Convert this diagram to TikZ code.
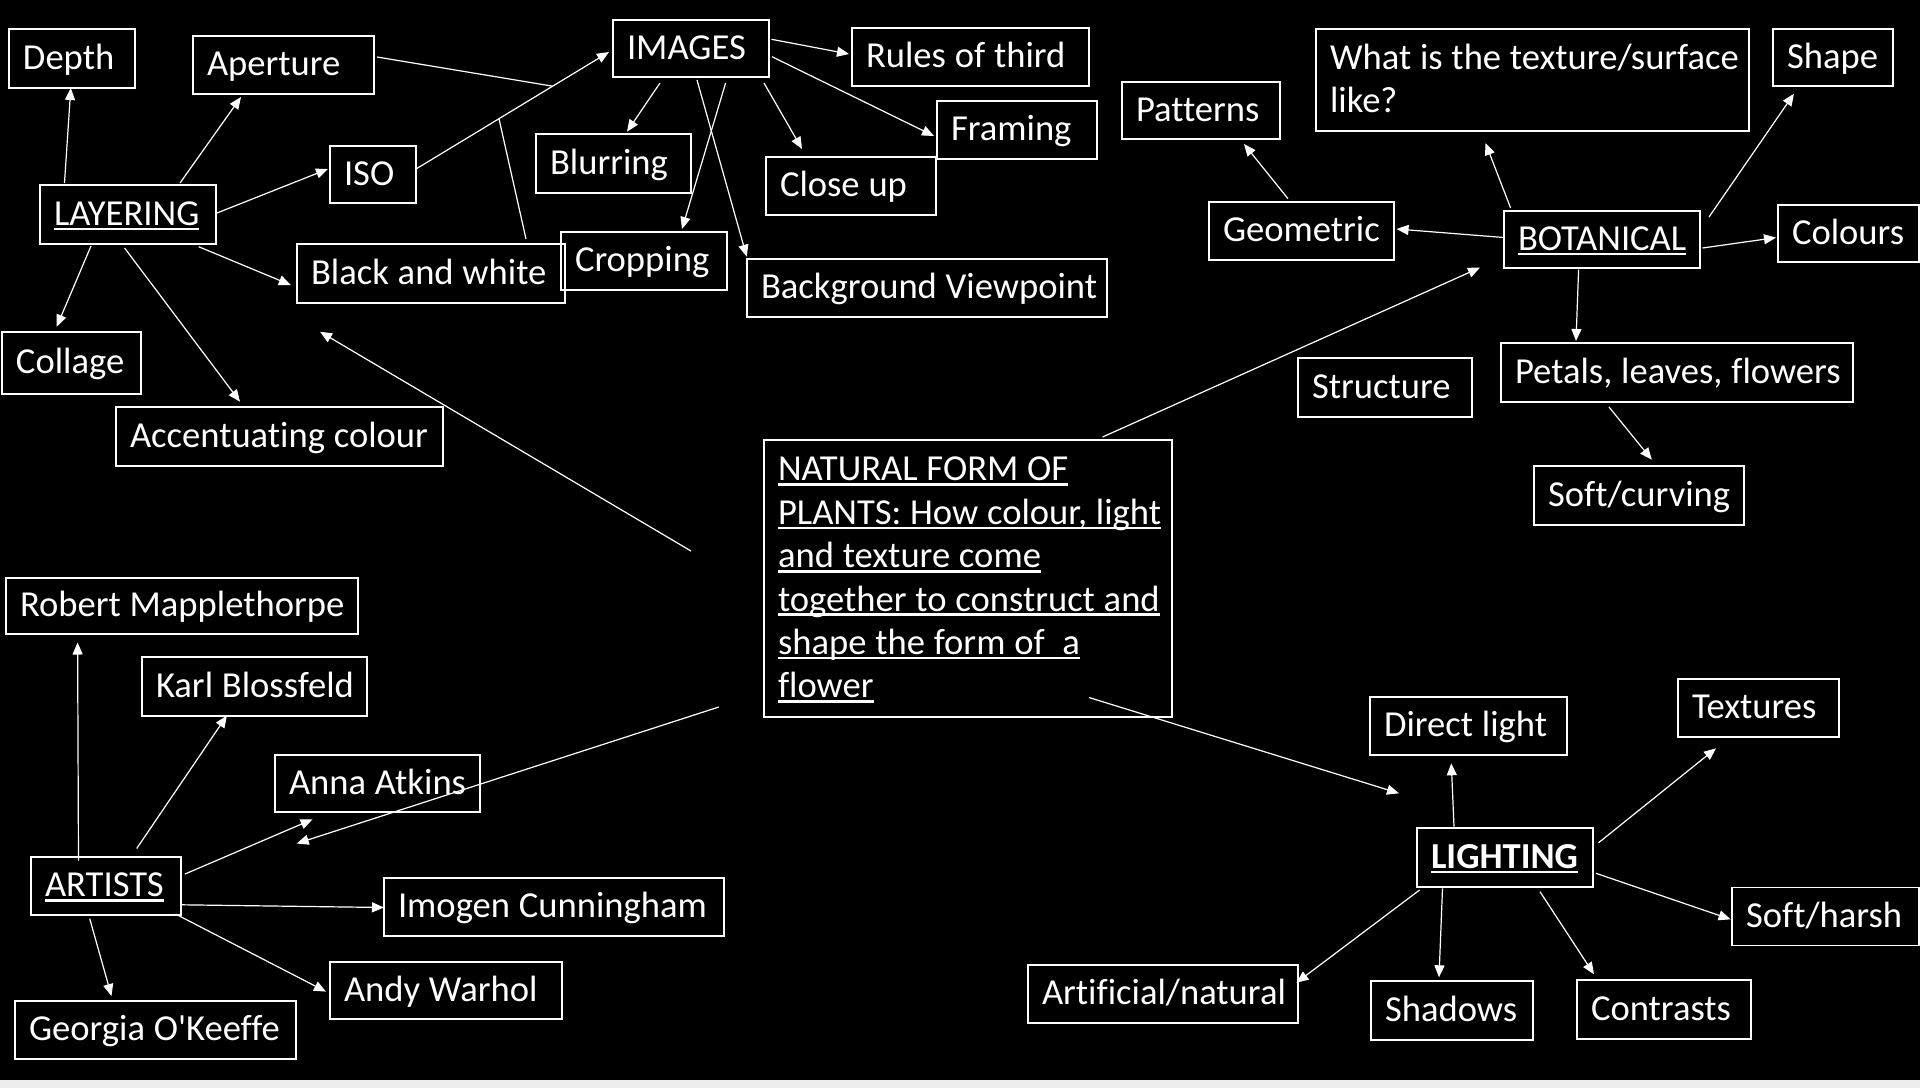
\documentclass[tikz,border=0pt]{standalone}
\usepackage{fontspec}
\setmainfont{Carlito}[Ligatures={NoCommon,NoContextual}]
\usetikzlibrary{arrows.meta,calc}
\newcommand\myul[1]{\setbox0=\hbox{#1}\rlap{\rule[-0.13em]{\wd0}{0.07em}}\box0}
\newcommand\mystrut{\rule[-0.2em]{0pt}{1em}}
\newcommand\bx[2]{\makebox[#1pt][l]{\mystrut #2}}
\newcommand\ml[2]{\parbox{#1pt}{#2}}
\newcommand\boxfont{\fontsize{36.6}{43.4}\selectfont\frenchspacing\spaceskip=0.24em plus 0.05em minus 0.03em\relax}
\begin{document}
\begin{tikzpicture}[x=1pt,y=-1pt,
  box/.style={draw=white, line width=1.5pt, text=white, inner xsep=14pt, inner ysep=0pt, font=\boxfont},
  arr/.style={draw=white, line width=1.2pt, -{Triangle[length=12pt,width=10pt]}},
  ln/.style={draw=white, line width=1.2pt}]
\fill[black] (0,0) rectangle (1920,1088);
\fill[black!7] (0,1080) rectangle (1920,1088);
\useasboundingbox (0,0) rectangle (1920,1088);

% LAYERING group
\node[box, minimum height=59pt] (depth) at (72,58.5) {\bx{98}{Depth}};
\node[box, minimum height=58pt] (aperture) at (283.5,65) {\bx{153}{Aperture}};
\node[box, minimum height=57pt] (iso) at (373,174.5) {\bx{58}{ISO}};
\node[box, minimum height=59pt] (lay) at (128,214.5) {\bx{148}{\myul{LAYERING}}};
\node[box, minimum height=59pt] (bw) at (431,273.5) {\bx{240}{Black and white}};
\node[box, minimum height=58pt] (cropping) at (644,261) {\bx{138}{Cropping}};
\node[box, minimum height=59pt] (blurring) at (613.5,163.5) {\bx{127}{Blurring}};
\node[box, minimum height=62pt] (collage) at (71.5,363) {\bx{111}{Collage}};
\node[box, minimum height=59pt] (accent) at (279.5,436.5) {\bx{299}{Accentuating colour}};

% IMAGES group
\node[box, minimum height=57pt] (images) at (691,48.5) {\bx{128}{IMAGES}};
\node[box, minimum height=58pt] (rules) at (970.5,57) {\bx{209}{Rules of third}};
\node[box, minimum height=58pt] (framing) at (1017,130) {\bx{132}{Framing}};
\node[box, minimum height=58pt] (closeup) at (851,186) {\bx{142}{Close up}};
\node[box, minimum height=58pt] (background) at (927,288) {\bx{332}{Background Viewpoint}};

% BOTANICAL group
\node[box, minimum height=102pt] (what) at (1532.5,80)
  {\ml{405}{\mbox{\mystrut What is the texture/surface}\\\mbox{\mystrut like?}}};
\node[box, minimum height=57pt] (shape) at (1833,57.5) {\bx{92}{Shape}};
\node[box, minimum height=57pt] (patterns) at (1201,110.5) {\bx{130}{Patterns}};
\node[box, minimum height=58pt] (geometric) at (1301.5,231) {\bx{157}{Geometric}};
\node[box, minimum height=57pt] (bot) at (1602,239.5) {\bx{168}{\myul{BOTANICAL}}};
\node[box, minimum height=57pt] (colours) at (1848.5,233.5) {\bx{113}{Colours}};
\node[box, minimum height=59pt] (structure) at (1385,387.5) {\bx{146}{Structure}};
\node[box, minimum height=59pt] (petals) at (1677,372.5) {\bx{324}{Petals, leaves, flowers}};
\node[box, minimum height=59pt] (softcurving) at (1639,495.5) {\bx{182}{Soft/curving}};

% centre
\node[box, minimum height=277pt] (natural) at (968,578.5)
  {\ml{380}{\mbox{\mystrut\myul{NATURAL FORM OF}}\\
   \mbox{\mystrut\myul{PLANTS: How colour, light}}\\
   \mbox{\mystrut\myul{and texture come}}\\
   \mbox{\mystrut\myul{together to construct and}}\\
   \mbox{\mystrut\myul{shape the form of\ \ a}}\\
   \mbox{\mystrut\myul{flower}}}};

% ARTISTS group
\node[box, minimum height=56pt] (robert) at (182,606) {\bx{324}{Robert Mapplethorpe}};
\node[box, minimum height=59pt] (karl) at (254.5,686.5) {\bx{197}{Karl Blossfeld}};
\node[box, minimum height=57pt] (anna) at (377.5,783.5) {\bx{177}{Anna Atkins}};
\node[box, minimum height=58pt] (artists) at (106,886) {\bx{122}{\myul{ARTISTS}}};
\node[box, minimum height=58pt] (imogen) at (554,907) {\bx{312}{Imogen Cunningham}};
\node[box, minimum height=57pt] (andy) at (446,990.5) {\bx{204}{Andy Warhol}};
\node[box, minimum height=58pt] (georgia) at (155.5,1030) {\bx{253}{Georgia O\textquotesingle Keeffe}};

% LIGHTING group
\node[box, minimum height=58pt] (direct) at (1468.5,726) {\bx{169}{Direct light}};
\node[box, minimum height=58pt] (textures) at (1758.5,708) {\bx{133}{Textures}};
\node[box, minimum height=59pt] (lighting) at (1505,857.5) {\bx{148}{\bfseries\myul{LIGHTING}}};
\node[box, minimum height=58pt] (softharsh) at (1825.5,916.5) {\bx{159}{Soft/harsh}};
\node[box, minimum height=58pt] (artificial) at (1163,994) {\bx{242}{Artificial/natural}};
\node[box, minimum height=59pt] (shadows) at (1452,1010.5) {\bx{134}{Shadows}};
\node[box, minimum height=59pt] (contrasts) at (1664,1009.5) {\bx{146}{Contrasts}};

% connectors: LAYERING
\draw[arr] ($(lay)+(-63.5,-31.5)$) -- ($(depth)+(-1.2,29.5)$);
\draw[arr] ($(lay)+(52,-31.5)$) -- ($(aperture)+(-42.5,32)$);
\draw[arr] ($(lay)+(89,-1.5)$) -- ($(iso)+(-45,-5.5)$);
\coordinate (isoA) at ($(iso)+(43,-5.5)$);
\coordinate (imgA) at ($(images)+(-82,3.5)$);
\draw[arr] (isoA) -- (imgA);
\draw[ln] ($(aperture)+(93.5,-8)$) -- ($(isoA)!0.708!(imgA)$);
\draw[ln] ($(bw)+(95,-34.5)$) -- ($(isoA)!0.43!(imgA)$);
\draw[arr] ($(lay)+(70.7,32.2)$) -- ($(bw)+(-140.2,11.5)$);
\draw[arr] ($(lay)+(-37,31.5)$) -- ($(collage)+(-14.8,-36.3)$);
\draw[arr] ($(lay)+(-3.4,33.5)$) -- ($(accent)+(-39.5,-34.8)$);
\draw[arr] ($(natural)+(-277,-27.5)$) -- ($(bw)+(-111,58.2)$);

% connectors: IMAGES
\draw[arr] ($(images)+(80.5,-9.2)$) -- ($(rules)+(-121.5,-3)$);
\draw[arr] ($(images)+(81,8.2)$) -- ($(framing)+(-83,6)$);
\draw[arr] ($(images)+(73,34.5)$) -- ($(closeup)+(-49,-37)$);
\draw[arr] ($(images)+(-31,34.5)$) -- ($(blurring)+(13.5,-31.8)$);
\draw[arr] ($(images)+(34.6,34.5)$) -- ($(cropping)+(38,-32)$);
\draw[arr] ($(images)+(6,31.5)$) -- ($(background)+(-180.3,-31.3)$);

% connectors: BOTANICAL
\draw[arr] ($(geometric)+(-13.5,-32.3)$) -- ($(patterns)+(43,33.5)$);
\draw[arr] ($(bot)+(-91.4,-31.5)$) -- ($(what)+(-47,63)$);
\draw[arr] ($(bot)+(107,-22.5)$) -- ($(shape)+(-39,36.2)$);
\draw[arr] ($(bot)+(-97,-1.9)$) -- ($(geometric)+(95,-2)$);
\draw[arr] ($(bot)+(100.5,8.5)$) -- ($(colours)+(-72.5,4.1)$);
\draw[arr] ($(bot)+(-23.4,30.1)$) -- ($(petals)+(-101,-31.5)$);
\draw[arr] ($(petals)+(-68,34.5)$) -- ($(softcurving)+(12.8,-35.8)$);
\draw[arr] ($(natural)+(134.6,-141.5)$) -- ($(bot)+(-122,28.1)$);

% connectors: ARTISTS
\draw[arr] ($(artists)+(-27.5,-25.3)$) -- ($(robert)+(-104.4,36.5)$);
\draw[arr] ($(artists)+(30.7,-37.5)$) -- ($(karl)+(-27.6,29.1)$);
\draw[arr] ($(artists)+(79,-12)$) -- ($(anna)+(-64.9,35.8)$);
\draw[arr] ($(artists)+(76,18.8)$) -- ($(imogen)+(-170,0.5)$);
\draw[arr] ($(artists)+(69.5,28)$) -- ($(andy)+(-120,1.1)$);
\draw[arr] ($(artists)+(-16.3,32.6)$) -- ($(georgia)+(-44,-34)$);
\draw[arr] ($(natural)+(-249.2,128.5)$) -- ($(anna)+(-80.8,60)$);

% connectors: LIGHTING
\draw[arr] ($(lighting)+(-51,-30.8)$) -- ($(direct)+(-17.2,37.3)$);
\draw[arr] ($(lighting)+(93.6,-14.8)$) -- ($(textures)+(-42.5,40.3)$);
\draw[arr] ($(lighting)+(91,15.8)$) -- ($(softharsh)+(-94.9,2.8)$);
\draw[arr] ($(lighting)+(35,34.2)$) -- ($(contrasts)+(-70,-35.2)$);
\draw[arr] ($(lighting)+(-62.5,30.8)$) -- ($(shadows)+(-13,-33.2)$);
\draw[arr] ($(lighting)+(-85.4,32.5)$) -- ($(artificial)+(133.4,-11.3)$);
\draw[arr] ($(natural)+(121,119)$) -- ($(lighting)+(-106,-64.2)$);
\end{tikzpicture}
\end{document}
